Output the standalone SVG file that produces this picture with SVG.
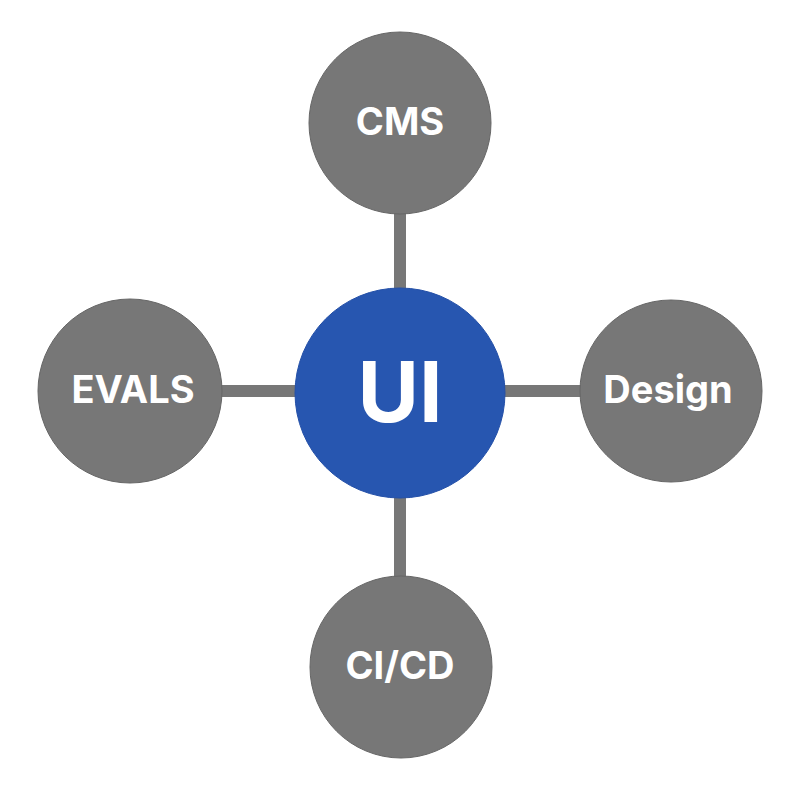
<svg xmlns="http://www.w3.org/2000/svg" width="800" height="800" viewBox="0 0 800 800">
<style>
.sat{fill:#777777;stroke:#666666;stroke-width:1}
.hub{fill:#2756b0;stroke:#2450a8;stroke-width:1}
.lbl{fill:#ffffff;font-family:Inter,"Liberation Sans",sans-serif;font-weight:700;text-anchor:middle;dominant-baseline:central}
.edge{stroke:#777777;stroke-width:12;fill:none}
</style>
<rect width="800" height="800" fill="#ffffff"/>
<g id="connectors">
<line class="edge" x1="400" y1="212" x2="400" y2="290"/>
<line class="edge" x1="400" y1="496" x2="400" y2="578"/>
<line class="edge" x1="220" y1="391" x2="297" y2="391"/>
<line class="edge" x1="503" y1="391" x2="582" y2="391"/>
</g>
<g id="cms"><circle class="sat" cx="400" cy="123" r="91"/><text class="lbl" x="400" y="121" font-size="38">CMS</text></g>
<g id="evals"><circle class="sat" cx="130" cy="391" r="92"/><text class="lbl" x="133" y="389" font-size="38">EVALS</text></g>
<g id="design"><circle class="sat" cx="671" cy="391" r="91"/><text class="lbl" x="668" y="389" font-size="38">Design</text></g>
<g id="cicd"><circle class="sat" cx="401" cy="667" r="91"/><text class="lbl" x="400" y="665" font-size="38">CI/CD</text></g>
<g id="ui"><circle class="hub" cx="400" cy="393" r="105"/><text class="lbl" x="400" y="391" font-size="84">UI</text></g>
</svg>
